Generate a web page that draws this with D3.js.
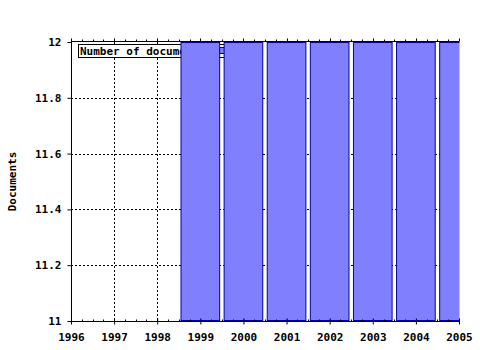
<!DOCTYPE html>
<html>
<head>
<meta charset="utf-8">
<script src="https://cdn.jsdelivr.net/npm/d3@7"></script>
<style>
body { margin: 0; background: #fff; }
text { font-family: "DejaVu Sans Mono", monospace; font-weight: bold; font-size: 11px; fill: #000; }
</style>
</head>
<body>
<div id="chart"></div>
<script>
var years = [1999, 2000, 2001, 2002, 2003, 2004, 2005];
var documents = [12, 12, 12, 12, 12, 12, 12];
var xTicks = [1996, 1997, 1998, 1999, 2000, 2001, 2002, 2003, 2004, 2005];
var yTicks = [11, 11.2, 11.4, 11.6, 11.8, 12];
var seriesName = "Number of documents";

var svgWidth = 480;
var svgHeight = 350;
var margin = { top: 42, right: 21, bottom: 29, left: 71 };
var width = svgWidth - margin.left - margin.right;
var height = svgHeight - margin.top - margin.bottom;

var svg = d3.select("#chart").append("svg")
    .attr("width", svgWidth)
    .attr("height", svgHeight);

var chartGroup = svg.append("g")
    .attr("transform", `translate(${margin.left},${margin.top})`);

var xScale = d3.scaleLinear().domain([1996, 2005]).range([0, width]);
var yScale = d3.scaleLinear().domain([11, 12]).range([height, 0]);

svg.append("defs").append("clipPath").attr("id", "plot")
    .append("rect").attr("x", 0).attr("y", 0).attr("width", width + 0.5).attr("height", height);

// grid
chartGroup.selectAll(".hgrid")
    .data(yTicks.filter(d => d > 11 && d < 12))
    .enter().append("line")
    .attr("x1", 0).attr("x2", width)
    .attr("y1", d => Math.round(yScale(d)) + 0.5)
    .attr("y2", d => Math.round(yScale(d)) + 0.5)
    .attr("stroke", "#000").attr("stroke-dasharray", "2,2");

chartGroup.selectAll(".vgrid")
    .data(xTicks.slice(1, -1))
    .enter().append("line")
    .attr("x1", d => Math.round(xScale(d)) + 0.5)
    .attr("x2", d => Math.round(xScale(d)) + 0.5)
    .attr("y1", 0).attr("y2", height)
    .attr("stroke", "#000").attr("stroke-dasharray", "2,2");

// legend (sits under the bars)
var legend = chartGroup.append("g").attr("transform", "translate(7,2)");
legend.append("rect")
    .attr("x", 0.5).attr("y", 0.5).attr("width", 150).attr("height", 13)
    .attr("fill", "#fff").attr("stroke", "#000");
legend.append("text").attr("x", 2).attr("y", 11).text(seriesName);
legend.append("rect")
    .attr("x", 141.5).attr("y", 3.5).attr("width", 6).attr("height", 6)
    .attr("fill", "#8080ff").attr("stroke", "#0000aa");

// bars
var barW = xScale(1996.92) - xScale(1996);
chartGroup.append("g").attr("clip-path", "url(#plot)")
    .selectAll("rect")
    .data(years)
    .enter().append("rect")
    .attr("x", d => xScale(d) - barW / 2 + 0.5)
    .attr("y", (d, i) => yScale(documents[i]) + 0.5)
    .attr("width", barW - 1)
    .attr("height", (d, i) => height - yScale(documents[i]) - 1)
    .attr("fill", "#8080ff")
    .attr("stroke", "#0000aa");

// axes
var minorTicks = d3.range(1996, 2005.01, 0.25);
var bottomAxis = d3.axisBottom(xScale).tickValues(xTicks).tickFormat(d3.format("d")).tickSize(3);
var xAxis = chartGroup.append("g")
    .attr("transform", `translate(0,${height + 0.5})`)
    .call(bottomAxis);
xAxis.select(".domain").remove();
xAxis.append("line").attr("x1", 0).attr("x2", width).attr("stroke", "#000");
xAxis.selectAll(".tick line").attr("y1", -3).attr("y2", 3);
xAxis.selectAll(".tick text").attr("y", 12).attr("dy", "0.71em");
xAxis.attr("font-family", null).attr("font-size", null);
xAxis.selectAll(".minor").data(minorTicks).enter().append("line")
    .attr("x1", d => Math.round(xScale(d)) + 0.5)
    .attr("x2", d => Math.round(xScale(d)) + 0.5)
    .attr("y1", -2).attr("y2", 0).attr("stroke", "#000");

var topAxis = chartGroup.append("g").attr("transform", "translate(0,-0.5)");
topAxis.append("line").attr("x1", 0).attr("x2", width).attr("stroke", "#000");
topAxis.selectAll(".minor").data(minorTicks).enter().append("line")
    .attr("x1", d => Math.round(xScale(d)) + 0.5)
    .attr("x2", d => Math.round(xScale(d)) + 0.5)
    .attr("y1", d => Number.isInteger(d) ? -3 : -2).attr("y2", 0).attr("stroke", "#000");

var leftAxis = d3.axisLeft(yScale).tickValues(yTicks).tickFormat(d => d).tickSize(4);
var yAxis = chartGroup.append("g")
    .attr("transform", "translate(0.5,0)")
    .attr("font-family", null).attr("font-size", null)
    .call(leftAxis);
yAxis.select(".domain").attr("d", `M0,-1V${height + 1}`);
yAxis.selectAll(".tick text").attr("x", -10);

chartGroup.append("text")
    .attr("transform", "rotate(-90)")
    .attr("x", -height / 2)
    .attr("y", -55)
    .attr("text-anchor", "middle")
    .text("Documents");
</script>
</body>
</html>
